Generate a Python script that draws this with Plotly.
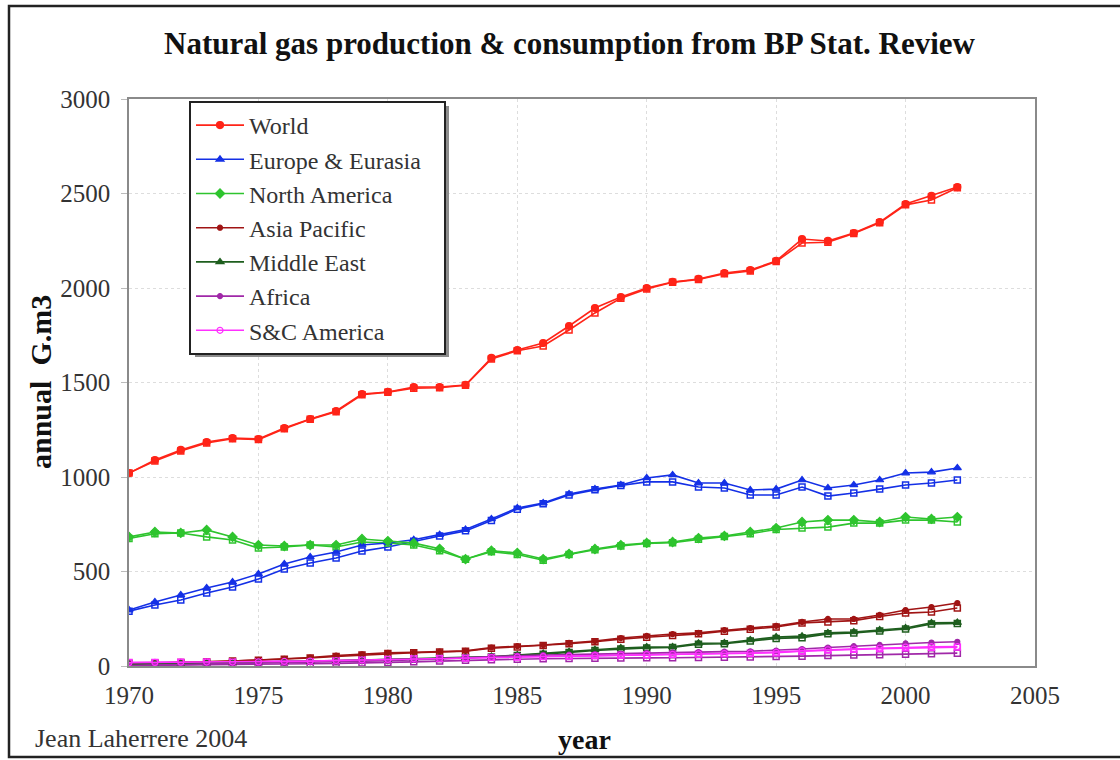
import plotly.graph_objects as go

years = list(range(1970, 2003))

regions = ["World", "Europe & Eurasia", "North America", "Asia Pacific",
           "Middle East", "Africa", "S&C America"]

world_prod = [1021,1090,1143,1185,1206,1201,1259,1307,1349,1439,1450,1476,1476,1487,1630,1672,1709,1799,1894,1952,2000,2032,2048,2079,2095,2143,2259,2249,2291,2349,2444,2487,2534]
world_cons = [1021,1085,1138,1180,1203,1198,1255,1305,1345,1435,1448,1470,1472,1485,1625,1668,1693,1778,1868,1946,1995,2030,2045,2075,2090,2140,2238,2242,2288,2345,2440,2466,2530]

eur_prod = [296,339,376,413,444,487,540,577,603,640,651,668,695,722,778,836,862,910,936,958,995,1011,968,968,931,936,984,942,958,984,1021,1026,1048]
eur_cons = [290,323,349,386,418,460,513,545,571,608,630,660,688,715,770,830,858,905,932,955,974,974,947,942,905,905,947,899,915,936,958,968,984]

na_prod = [683,709,704,720,683,640,635,640,640,672,661,650,620,565,610,598,566,593,619,640,651,656,677,688,709,730,762,772,772,762,788,778,788]
na_cons = [675,700,704,683,667,624,630,640,630,656,651,640,610,565,605,590,560,590,615,635,648,652,670,685,700,722,730,735,756,756,772,772,762]

ap_prod = [12,15,18,22,26,32,38,45,55,62,70,72,76,80,98,105,111,122,132,148,159,169,175,190,201,212,233,249,249,270,296,312,333]
ap_cons = [14,16,19,22,26,30,36,42,50,58,66,70,74,78,94,101,108,118,128,142,152,162,170,184,195,206,228,233,240,262,280,286,307]

me_prod = [10,12,14,16,18,20,22,25,28,32,35,38,42,45,50,58,66,76,86,95,100,101,120,122,138,153,158,175,180,190,201,228,230]
me_cons = [10,12,14,16,18,20,22,25,28,30,33,36,40,43,48,55,62,72,82,90,95,98,115,118,132,146,150,170,175,185,196,222,225]

af_prod = [3,5,7,9,11,13,16,19,22,25,28,32,38,43,50,55,58,60,63,66,70,72,74,76,78,82,90,98,105,112,120,124,128]
af_cons = [2,3,4,5,6,8,10,12,14,16,18,22,26,30,33,36,38,40,41,42,43,44,45,46,48,50,52,55,58,60,62,65,68]

sc_prod = [18,19,20,21,21,22,24,26,29,32,35,38,40,42,45,48,50,52,55,58,60,62,64,66,68,72,80,86,90,95,100,102,103]
sc_cons = [18,19,20,21,21,22,24,26,29,32,35,38,40,42,45,48,50,52,55,58,60,62,64,66,68,70,78,84,88,92,96,99,100]

production = [world_prod, eur_prod, na_prod, ap_prod, me_prod, af_prod, sc_prod]
consumption = [world_cons, eur_cons, na_cons, ap_cons, me_cons, af_cons, sc_cons]

x_ticks = [1970, 1975, 1980, 1985, 1990, 1995, 2000, 2005]
y_ticks = [0, 500, 1000, 1500, 2000, 2500, 3000]

colors = ["#ff2418", "#1430e6", "#2ec42e", "#a01414", "#1e5e1e", "#a028a8", "#ff30ff"]
symbols = ["circle", "triangle-up", "diamond", "circle", "triangle-up", "circle", "circle-open"]
sizes = [7, 7, 7, 5, 7, 5, 6]

SERIF = "Liberation Serif, Times New Roman, serif"

fig = go.Figure()
for i, name in enumerate(regions):
    fig.add_trace(go.Scatter(
        x=years, y=consumption[i], mode="lines+markers", name=name + " consumption",
        showlegend=False, legendgroup=name,
        line=dict(color=colors[i], width=1.6),
        marker=dict(symbol="square-open", size=6, color=colors[i], line=dict(width=1.5, color=colors[i])),
    ))
for i, name in enumerate(regions):
    label = name + ("\u00a0\u00a0\u00a0" if i == 1 else "")
    fig.add_trace(go.Scatter(
        x=years, y=production[i], mode="lines+markers", name=label, legendgroup=name,
        line=dict(color=colors[i], width=1.6),
        marker=dict(symbol=symbols[i], size=sizes[i], color=colors[i],
                    line=dict(width=1.2, color=colors[i])),
    ))

L, R, T, B = 129, 1035, 99, 666
W, H = 1120, 760
pw, ph = R - L, B - T

def px(x):
    return (x - L) / pw

def py(y):
    return (B - y) / ph

fig.update_layout(
    width=W, height=H,
    margin=dict(l=L, r=W - R, t=T, b=H - B, autoexpand=False),
    paper_bgcolor="white", plot_bgcolor="white",
    font=dict(family=SERIF, color="#333333", size=17),
    showlegend=True,
    legend=dict(
        x=px(189), y=py(101), xanchor="left", yanchor="top",
        bgcolor="white", bordercolor="#222222", borderwidth=2,
        font=dict(family=SERIF, size=24, color="#333333"),
        tracegroupgap=0, itemwidth=48,
    ),
    xaxis=dict(
        range=[1970, 2005], tickvals=x_ticks, ticktext=[str(v) for v in x_ticks],
        showgrid=True, gridcolor="#dddddd", griddash="dot", gridwidth=1,
        zeroline=False, showline=True, linecolor="#8a8a8a", linewidth=1.5, mirror=True,
        ticks="", tickfont=dict(family=SERIF, size=25, color="#333333"),
        ticklabelstandoff=6,
    ),
    yaxis=dict(
        range=[0, 3000], tickvals=y_ticks, ticktext=[str(v) for v in y_ticks],
        showgrid=True, gridcolor="#dddddd", griddash="dot", gridwidth=1,
        zeroline=False, showline=True, linecolor="#8a8a8a", linewidth=1.5, mirror=True,
        ticks="outside", ticklen=6, tickcolor="#bbbbbb",
        tickfont=dict(family=SERIF, size=25, color="#333333"),
        ticklabelstandoff=6,
    ),
    shapes=[
        dict(type="rect", xref="paper", yref="paper",
             x0=px(195), x1=px(449), y0=py(357), y1=py(106),
             fillcolor="#8c8c8c", line=dict(width=0), layer="above"),
        dict(type="rect", xref="paper", yref="paper",
             x0=px(9), x1=px(1125), y0=py(757), y1=py(6),
             line=dict(color="#222222", width=2.5), fillcolor="rgba(0,0,0,0)", layer="below"),
    ],
    annotations=[
        dict(text="<b>Natural gas production &amp; consumption from BP Stat. Review</b>",
             xref="paper", yref="paper", x=px(570), y=py(43), xanchor="center", yanchor="middle",
             showarrow=False, font=dict(family=SERIF, size=31, color="#111111")),
        dict(text="<b>annual  G.m3</b>", textangle=-90,
             xref="paper", yref="paper", x=px(40), y=py(382), xanchor="center", yanchor="middle",
             showarrow=False, font=dict(family=SERIF, size=30, color="#111111")),
        dict(text="<b>year</b>",
             xref="paper", yref="paper", x=px(584), y=py(740), xanchor="center", yanchor="middle",
             showarrow=False, font=dict(family=SERIF, size=28, color="#111111")),
        dict(text="Jean Laherrere 2004",
             xref="paper", yref="paper", x=px(33), y=py(738), xanchor="left", yanchor="middle",
             showarrow=False, font=dict(family=SERIF, size=26, color="#333333")),
    ],
)

fig.write_html("out.html", config={"displayModeBar": False},
               post_script="document.body.style.margin='0px';document.body.style.padding='0px';")
